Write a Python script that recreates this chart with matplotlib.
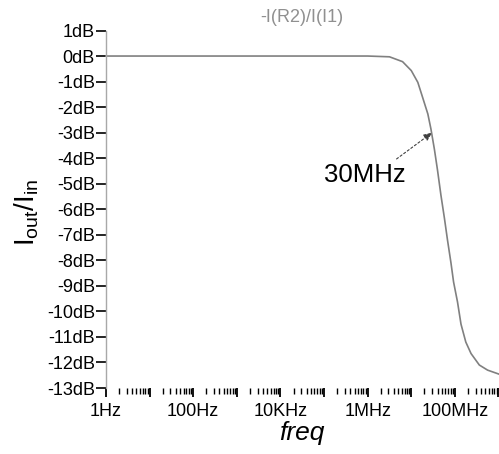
import numpy as np
import matplotlib
matplotlib.use("Agg")
import matplotlib.pyplot as plt
from matplotlib.ticker import FixedLocator, NullFormatter, FixedFormatter

plt.rcParams['font.family'] = ['Liberation Sans', 'DejaVu Sans']

# Data (frequency in Hz, gain in dB)
log_freq = [0, 3, 6.0, 6.5, 6.8, 7.0, 7.15, 7.26, 7.38, 7.45, 7.53, 7.60, 7.68, 7.76,
            7.83, 7.91, 7.97, 8.06, 8.14, 8.25, 8.37, 8.56, 8.75, 9.0]
gain_db = [0, 0, 0, -0.03, -0.22, -0.57, -1.03, -1.62, -2.27, -2.85, -3.65, -4.45,
           -5.45, -6.35, -7.2, -8.1, -8.85, -9.63, -10.5, -11.2, -11.65, -12.1, -12.3, -12.45]
freq = [10 ** v for v in log_freq]

y_ticks = list(range(-13, 2))
y_labels = [f"{v}dB" for v in y_ticks]
x_major = [10 ** k for k in range(0, 10)]
x_labels = ["1Hz", "", "100Hz", "", "10KHz", "", "1MHz", "", "100MHz", ""]
title = "-I(R2)/I(I1)"
marker_freq = 3e7
marker_db = -3.0
marker_text = "30MHz"

fig = plt.figure(figsize=(4.99, 4.54), dpi=100)
ax = fig.add_axes([106 / 499, 1 - 388 / 454, 392.5 / 499, 357.5 / 454])

ax.plot(freq, gain_db, color='#808080', lw=1.2, clip_on=False)
ax.set_xscale('log')
ax.set_xlim(1, 1e9)
ax.set_ylim(-13, 1)

for s in ['top', 'right', 'bottom']:
    ax.spines[s].set_visible(False)
ax.spines['left'].set_color('#a8a8a8')
ax.spines['left'].set_linewidth(1.0)

ax.yaxis.set_major_locator(FixedLocator(y_ticks))
ax.yaxis.set_major_formatter(FixedFormatter(y_labels))
ax.tick_params(axis='y', direction='out', length=7.5, width=1.2, color='black',
               labelsize=13, pad=0.5)

ax.xaxis.set_major_locator(FixedLocator(x_major))
ax.xaxis.set_major_formatter(FixedFormatter(x_labels))
minors = [m * 10 ** k for k in range(0, 9) for m in range(2, 10)]
ax.xaxis.set_minor_locator(FixedLocator(minors))
ax.xaxis.set_minor_formatter(NullFormatter())
ax.tick_params(axis='x', which='major', direction='out', length=6.5, width=1.3,
               color='black', labelsize=13, pad=4)
ax.tick_params(axis='x', which='minor', direction='out', length=4, width=1.0,
               color='black')

ax.set_title(title, color='#909090', fontsize=13, pad=6)
ax.set_xlabel('freq', fontsize=19, style='italic', labelpad=1)
ax.set_ylabel(r'$\mathregular{I_{out}/I_{in}}$', fontsize=20)
ax.yaxis.set_label_coords(-0.165, 0.492)

ax.annotate('', xy=(marker_freq, marker_db), xytext=(4.6e6, -4.03),
            arrowprops=dict(arrowstyle='-|>,head_length=0.5,head_width=0.22',
                            linestyle=(0, (2, 2)), color='#404040', lw=0.8,
                            shrinkA=0, shrinkB=0))
ax.text(8.5e5, -4.65, marker_text, fontsize=18.5, ha='center', va='center')

fig.savefig('out.png', dpi=100)
